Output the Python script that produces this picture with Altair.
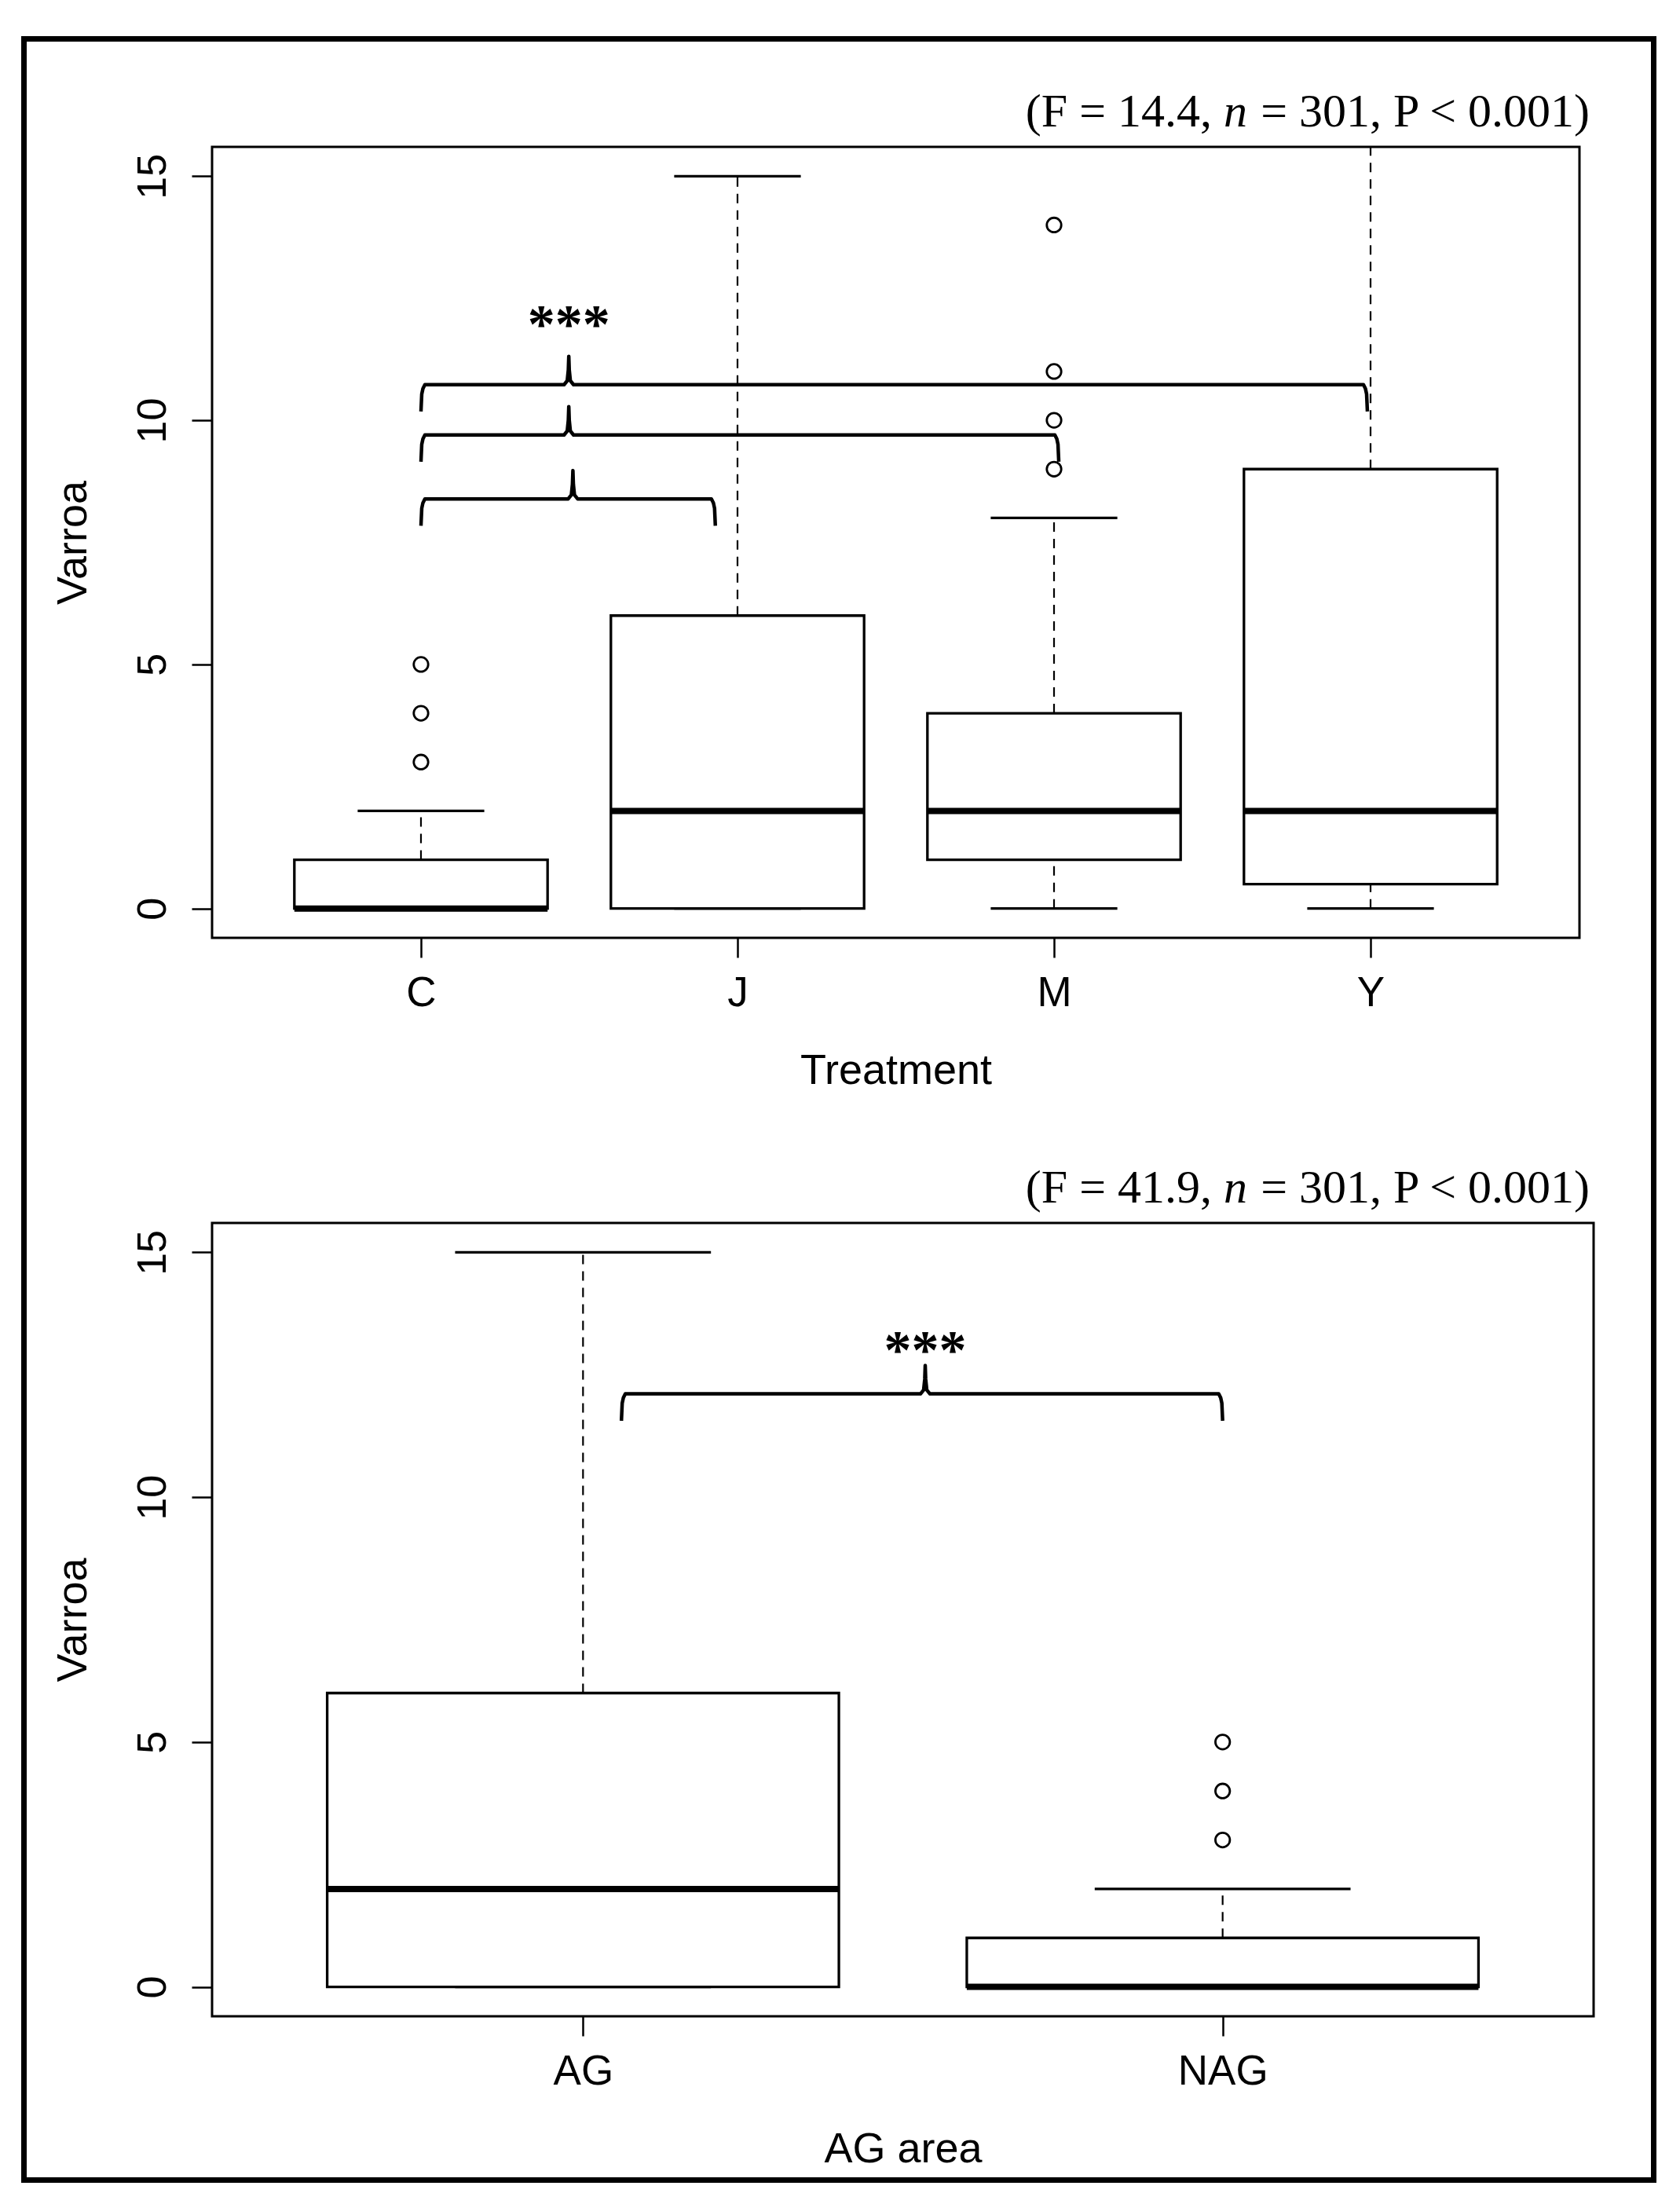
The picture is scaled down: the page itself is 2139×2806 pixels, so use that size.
import json
import altair as alt
import pandas as pd

# ---------------- data ----------------
treat_names = ["C", "J", "M", "Y"]
treat_q1 = [0, 0, 1, 0.5]
treat_median = [0, 2, 2, 2]
treat_q3 = [1, 6, 4, 9]
treat_whisk_lo = [0, 0, 0, 0]
treat_whisk_hi = [2, 15, 8, 20]
treat_out_group = ["C", "C", "C", "M", "M", "M", "M"]
treat_out_value = [3, 4, 5, 9, 10, 11, 14]
treat_stats = ["(F = 14.4,", "n", "= 301, P < 0.001)"]
treat_br_from = [1.0, 1.0, 1.0]
treat_br_to = [1.93, 3.015, 3.99]
treat_br_level = [8.39, 9.70, 10.73]
treat_br_tip = [1.48, 1.467, 1.467]
treat_star_x = [1.467]
treat_star_y = [11.6]

area_names = ["AG", "NAG"]
area_q1 = [0, 0]
area_median = [2, 0]
area_q3 = [6, 1]
area_whisk_lo = [0, 0]
area_whisk_hi = [15, 2]
area_out_group = ["NAG", "NAG", "NAG"]
area_out_value = [3, 4, 5]
area_stats = ["(F = 41.9,", "n", "= 301, P < 0.001)"]
area_br_from = [1.06]
area_br_to = [2.0]
area_br_level = [12.11]
area_br_tip = [1.535]
area_star_x = [1.535]
area_star_y = [12.64]

# ---------------- styling ----------------
SANS = "Liberation Sans"
SERIF = "Liberation Serif"
YDOM = [-0.6, 15.6]
BOX_HALF = 0.4
CAP_HALF = 0.2
DROP = 0.55
RISE = 0.58
STAT_FS = 60
EM_C = 7.017   # width (em) of the last stats piece
EM_N = 0.5     # italic n
EM_SP = 0.25   # space


def brace_frame(froms, tos, levels, tips, upx):
    rows = []
    for i, (a, b, lv, t) in enumerate(zip(froms, tos, levels, tips)):
        pts = [
            (a, lv - DROP), (a + 1 * upx, lv - DROP * 0.35), (a + 2.5 * upx, lv - 0.08), (a + 5 * upx, lv),
            (t - 6 * upx, lv), (t - 2 * upx, lv + 0.08), (t - 0.6 * upx, lv + 0.3), (t, lv + RISE),
            (t + 0.6 * upx, lv + 0.3), (t + 2 * upx, lv + 0.08), (t + 6 * upx, lv),
            (b - 5 * upx, lv), (b - 2.5 * upx, lv - 0.08), (b - 1 * upx, lv - DROP * 0.35), (b, lv - DROP),
        ]
        for j, (x, y) in enumerate(pts):
            rows.append({"b": i, "k": j, "x": x, "y": y})
    return pd.DataFrame(rows)


def panel(names, q1, med, q3, lo, hi, out_g, out_v, stats, bf, bt, bl, btip, sx, sy,
          xdom, width, height, xtitle, border_top, border_bottom):
    pos = list(range(1, len(names) + 1))
    box = pd.DataFrame({"pos": pos, "name": names, "q1": q1, "med": med, "q3": q3, "lo": lo, "hi": hi})
    outs = pd.DataFrame({"pos": [names.index(g) + 1 for g in out_g], "v": out_v})
    upx = (xdom[1] - xdom[0]) / width
    br = brace_frame(bf, bt, bl, btip, upx)
    stars = pd.DataFrame({"x": sx, "y": sy, "t": ["***"] * len(sx)})

    xscale = alt.Scale(domain=xdom, nice=False, zero=False)
    yscale = alt.Scale(domain=YDOM, nice=False, zero=False)
    xaxis = alt.Axis(values=pos, labelExpr=f"{json.dumps(names)}[datum.value - 1]",
                     title=xtitle, tickSize=25, tickWidth=2.5, tickColor="black",
                     labelPadding=61, labelBaseline="alphabetic", labelAlign="center",
                     labelFont=SANS, labelFontSize=53, labelColor="black",
                     titleFont=SANS, titleFontSize=54, titleFontWeight="normal", titleColor="black",
                     titleX=width / 2, titleY=185, titleBaseline="alphabetic", titleAlign="center",
                     domain=False, grid=False, labelFlush=False)
    yaxis = alt.Axis(values=[0, 5, 10, 15], format="d", title="Varroa", tickSize=26, tickWidth=2.5,
                     tickColor="black",
                     labelAngle=270, labelAlign="center", labelBaseline="alphabetic", labelPadding=34,
                     labelFont=SANS, labelFontSize=52, labelColor="black",
                     titleFont=SANS, titleFontSize=54, titleFontWeight="normal", titleColor="black",
                     titleAngle=270, titleX=-161, titleY=height / 2, titleAlign="center",
                     titleBaseline="alphabetic", domain=False, grid=False, labelFlush=False)

    X = alt.X("pos:Q", scale=xscale, axis=xaxis)
    base = alt.Chart(box).transform_calculate(
        xl=f"datum.pos - {BOX_HALF}", xr=f"datum.pos + {BOX_HALF}",
        cl=f"datum.pos - {CAP_HALF}", cr=f"datum.pos + {CAP_HALF}")

    whisk_up = base.mark_rule(color="black", strokeWidth=2.2, strokeDash=[12, 9], clip=True).encode(
        x=X, y=alt.Y("q3:Q", scale=yscale, axis=yaxis), y2="hi:Q")
    whisk_lo = base.mark_rule(color="black", strokeWidth=2.2, strokeDash=[12, 9], clip=True).encode(
        x="pos:Q", y="lo:Q", y2="q1:Q")
    cap_hi = base.mark_rule(color="black", strokeWidth=3.2, clip=True).encode(
        x="cl:Q", x2="cr:Q", y="hi:Q")
    cap_lo = base.mark_rule(color="black", strokeWidth=3.2, clip=True).encode(
        x="cl:Q", x2="cr:Q", y="lo:Q")
    boxes = base.mark_rect(fill="white", stroke="black", strokeWidth=3.3).encode(
        x="xl:Q", x2="xr:Q", y="q1:Q", y2="q3:Q")
    medians = base.mark_rule(color="black", strokeWidth=8).encode(
        x="xl:Q", x2="xr:Q", y="med:Q")
    outliers = alt.Chart(outs).mark_point(shape="circle", filled=False, color="black",
                                          size=340, strokeWidth=2.8, opacity=1).encode(
        x="pos:Q", y="v:Q")
    braces = alt.Chart(br).mark_line(color="black", strokeWidth=4.5, strokeJoin="round").encode(
        x="x:Q", y="y:Q", detail="b:N", order="k:Q")
    star_txt = alt.Chart(stars).mark_text(font=SERIF, fontSize=70, fontWeight="bold", color="black",
                                          align="center", baseline="alphabetic").encode(
        x="x:Q", y="y:Q", text="t:N")

    x_end = 1754
    y_base = -26
    st_a = alt.Chart(pd.DataFrame({"t": [stats[0]]})).mark_text(
        font=SERIF, fontSize=STAT_FS, color="black", align="right", baseline="alphabetic").encode(
        x=alt.value(x_end - (EM_C + EM_SP + EM_N + EM_SP) * STAT_FS), y=alt.value(y_base), text="t:N")
    st_n = alt.Chart(pd.DataFrame({"t": [stats[1]]})).mark_text(
        font=SERIF, fontSize=STAT_FS, fontStyle="italic", color="black", align="right",
        baseline="alphabetic").encode(
        x=alt.value(x_end - (EM_C + EM_SP) * STAT_FS), y=alt.value(y_base), text="t:N")
    st_c = alt.Chart(pd.DataFrame({"t": [stats[2]]})).mark_text(
        font=SERIF, fontSize=STAT_FS, color="black", align="right", baseline="alphabetic").encode(
        x=alt.value(x_end), y=alt.value(y_base), text="t:N")

    # outer figure frame pieces
    BL, BR = -239.5, 1835.5
    frame = []
    fr = dict(color="black", strokeWidth=7, strokeCap="square")
    if border_top is not None:
        frame.append(alt.Chart().mark_rule(**fr).encode(
            x=alt.value(BL), x2=alt.value(BR), y=alt.value(border_top)))
    if border_bottom is not None:
        frame.append(alt.Chart().mark_rule(**fr).encode(
            x=alt.value(BL), x2=alt.value(BR), y=alt.value(border_bottom)))
    vt = border_top if border_top is not None else -10
    vb = border_bottom if border_bottom is not None else height + 373
    frame.append(alt.Chart().mark_rule(**fr).encode(x=alt.value(BL), y=alt.value(vt), y2=alt.value(vb)))
    frame.append(alt.Chart().mark_rule(**fr).encode(x=alt.value(BR), y=alt.value(vt), y2=alt.value(vb)))

    return alt.layer(whisk_up, whisk_lo, cap_hi, cap_lo, boxes, medians, outliers, braces,
                     star_txt, st_a, st_n, st_c, *frame).properties(width=width, height=height)


top = panel(treat_names, treat_q1, treat_median, treat_q3, treat_whisk_lo, treat_whisk_hi,
            treat_out_group, treat_out_value, treat_stats,
            treat_br_from, treat_br_to, treat_br_level, treat_br_tip, treat_star_x, treat_star_y,
            [0.34, 4.66], 1741, 1007, "Treatment", -137.5, None)
bottom = panel(area_names, area_q1, area_median, area_q3, area_whisk_lo, area_whisk_hi,
               area_out_group, area_out_value, area_stats,
               area_br_from, area_br_to, area_br_level, area_br_tip, area_star_x, area_star_y,
               [0.42, 2.58], 1759, 1010, "AG area", None, 1218.5)

chart = alt.vconcat(top, bottom, spacing=363, bounds="flush").properties(
    padding={"left": 16, "top": 35, "right": 0, "bottom": 0},
    background="white",
).configure_view(stroke="black", strokeWidth=3)

chart.save("out.html", embed_options={"renderer": "svg", "actions": False})
